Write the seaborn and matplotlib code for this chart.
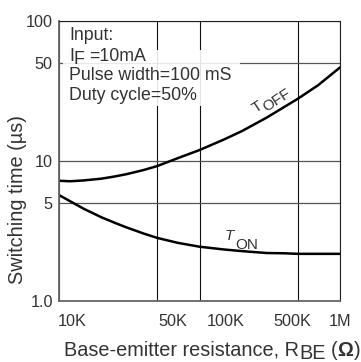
import numpy as np
import pandas as pd
import matplotlib
matplotlib.use("Agg")
import matplotlib.pyplot as plt
import seaborn as sns
from matplotlib.transforms import offset_copy, ScaledTranslation
from matplotlib.patches import Rectangle
from matplotlib.ticker import NullLocator

# Base-emitter resistance (ohm) and switching times (us)
resistance = [10e3, 12e3, 15e3, 20e3, 25e3, 30e3, 40e3, 50e3, 70e3, 100e3,
              150e3, 200e3, 300e3, 400e3, 500e3, 700e3, 1e6]
t_off = [7.21, 7.15, 7.25, 7.46, 7.74, 8.02, 8.60, 9.18, 10.45, 11.94,
         14.23, 16.29, 20.32, 24.2, 27.7, 34.7, 46.4]
t_on = [5.70, 5.15, 4.55, 3.96, 3.61, 3.36, 3.03, 2.82, 2.60, 2.44,
        2.33, 2.27, 2.20, 2.19, 2.17, 2.17, 2.17]

x_ticks = [10e3, 50e3, 100e3, 500e3, 1e6]
x_tick_labels = ["10K", "50K", "100K", "500K", "1M"]
y_ticks = [1, 5, 10, 50, 100]
y_tick_labels = ["1.0", "5", "10", "50", "100"]

df = pd.concat([
    pd.DataFrame({"R": resistance, "t": t_off, "curve": "TOFF"}),
    pd.DataFrame({"R": resistance, "t": t_on, "curve": "TON"}),
])

sns.set_style("white")
plt.rcParams["font.family"] = ["Liberation Sans", "DejaVu Sans"]
TXT = "#333333"

fig = plt.figure(figsize=(3.61, 3.62), dpi=100)
ax = fig.add_axes([59 / 361, 61 / 362, 281 / 361, 280.3 / 362])

sns.lineplot(data=df, x="R", y="t", hue="curve",
             palette={"TOFF": "black", "TON": "black"},
             linewidth=1.8, legend=False, ax=ax, zorder=2)
for ln in ax.get_lines():
    ln.set_solid_joinstyle("round")

ax.set_xscale("log")
ax.set_yscale("log")
ax.set_xlim(10e3, 1e6)
ax.set_ylim(1, 100)
ax.set_xticks(x_ticks)
ax.set_xticklabels(x_tick_labels)
ax.set_yticks(y_ticks)
ax.set_yticklabels(y_tick_labels)
ax.xaxis.set_minor_locator(NullLocator())
ax.yaxis.set_minor_locator(NullLocator())
ax.set_xlabel("")
ax.set_ylabel("")

ax.set_axisbelow(True)
ax.grid(axis="x", color="#111111", linewidth=0.8)
ax.grid(axis="y", color="#555555", linewidth=0.9)

for side in ("left", "bottom"):
    ax.spines[side].set_color("#666666")
    ax.spines[side].set_linewidth(1.3)
for side in ("top", "right"):
    ax.spines[side].set_color("#222222")
    ax.spines[side].set_linewidth(0.8)

ax.tick_params(axis="both", length=0, labelsize=11.7, labelcolor=TXT)
ax.tick_params(axis="y", pad=4.5)
ax.tick_params(axis="x", pad=9)

# nudge x tick labels sideways
x_shift_px = [13, 16, 26, -5, 0]
for lab, dx in zip(ax.get_xticklabels(), x_shift_px):
    lab.set_transform(lab.get_transform() + ScaledTranslation(dx / 100, 0, fig.dpi_scale_trans))

renderer = fig.canvas.get_renderer()


def chain(target, x, y, parts, transform, size, rotation=0.0):
    """Draw text pieces one after another; each piece may sit lower (subscript style)."""
    th = np.deg2rad(rotation)
    adv = 0.0
    for s, drop, gap, extra in parts:
        adv += gap
        ox = adv * np.cos(th) + drop * np.sin(th)
        oy = adv * np.sin(th) - drop * np.cos(th)
        tr = offset_copy(transform, fig=fig, x=ox, y=oy, units="points")
        t = target.text(x, y, s, transform=tr, rotation=rotation,
                        rotation_mode="anchor", ha="left", va="baseline",
                        fontsize=size, color=TXT, zorder=4, **extra)
        w, _, _ = renderer.get_text_width_height_descent(s, t.get_fontproperties(), ismath=False)
        adv += w * 72 / fig.dpi


# condition box
ax.add_patch(Rectangle(((63 - 59) / 281, (301 - 106) / 280.3), 177 / 281, 56 / 280.3,
                       transform=ax.transAxes, fc="white", ec="none", alpha=0.88, zorder=1.5))
bx = (69 - 59) / 281
ax.text(bx, (301 - 40) / 280.3, "Input:", transform=ax.transAxes, fontsize=12.8,
        color=TXT, ha="left", va="baseline", zorder=4)
chain(ax, bx, (301 - 61.2) / 280.3,
      [("I", 0, 0, {}), ("F", 1.8, 0, {}), ("=10mA", 0, 3.5, {})],
      ax.transAxes, 12.8)
ax.text(bx, (301 - 80.5) / 280.3, "Pulse width=100 mS", transform=ax.transAxes,
        fontsize=12.8, color=TXT, ha="left", va="baseline", zorder=4)
ax.text(bx, (301 - 100) / 280.3, "Duty cycle=50%", transform=ax.transAxes,
        fontsize=12.8, color=TXT, ha="left", va="baseline", zorder=4)

# curve labels
chain(ax, 2.52e5, 21.9, [("T", 0, 0, {}), ("OFF", 3.0, 0, {})], ax.transData, 11, rotation=33)
chain(ax, 1.52e5, 2.72, [("T", 0, 0, {"style": "italic"}), ("ON", 6.5, 0.3, {})], ax.transData, 11)

# axis titles
fig.text(18 / 361, 163 / 362, "Switching time (µs)", rotation=90, ha="center",
         va="center", fontsize=14.3, color=TXT)
chain(fig, 64 / 361, 6.5 / 362,
      [("Base-emitter resistance, R", 0, 0, {}), ("BE", 2.2, 0, {}),
       ("(", 0, 4.0, {}), ("Ω", 0, 0, {"fontweight": "bold"}), (")", 0, 0, {})],
      fig.transFigure, 14.3)

fig.savefig("out.png", dpi=100)
